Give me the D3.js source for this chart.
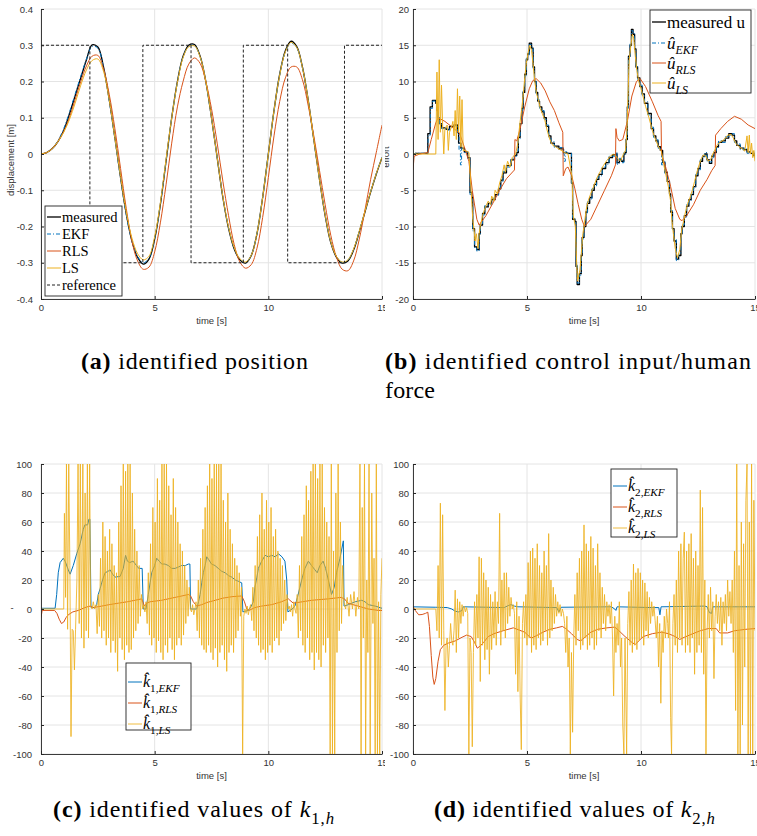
<!DOCTYPE html>
<html>
<head>
<meta charset="utf-8">
<script src="https://cdn.jsdelivr.net/npm/d3@7"></script>
<style>
  body { margin: 0; background: #fff; }
  svg { display: block; }
  .tick text { font-family: "Liberation Sans", Arial, sans-serif; font-size: 9.5px; fill: #333; }
  .lab { font-family: "Liberation Sans", Arial, sans-serif; font-size: 9.5px; fill: #333; }
  .leg { font-family: "Liberation Serif", "DejaVu Serif", serif; fill: #000; }
  .cap { font-family: "Liberation Serif", "DejaVu Serif", serif; fill: #000; }
</style>
</head>
<body>
<svg id="fig" width="757" height="836"></svg>
<script>

// ---- (a) position, sampled every 0.25 s
const posStep = 0.25;
const posMeasured = [0,0.004,0.015,0.035,0.065,0.11,0.16,0.21,0.26,0.301,0.295,0.24,0.15,0.045,-0.065,-0.165,-0.24,-0.285,-0.304,-0.29,-0.235,-0.14,-0.02,0.1,0.2,0.27,0.3,0.302,0.27,0.2,0.1,-0.01,-0.12,-0.205,-0.262,-0.292,-0.301,-0.28,-0.22,-0.12,0.0,0.12,0.22,0.285,0.311,0.296,0.24,0.15,0.04,-0.07,-0.17,-0.245,-0.285,-0.301,-0.295,-0.265,-0.215,-0.16,-0.105,-0.055,-0.01];
const posEKF = [0,0.004,0.015,0.037,0.07,0.115,0.165,0.215,0.262,0.297,0.292,0.238,0.148,0.043,-0.067,-0.167,-0.24,-0.283,-0.3,-0.287,-0.232,-0.138,-0.02,0.1,0.198,0.268,0.297,0.299,0.268,0.198,0.099,-0.01,-0.118,-0.203,-0.26,-0.29,-0.299,-0.279,-0.219,-0.12,0.0,0.118,0.218,0.282,0.307,0.293,0.238,0.149,0.04,-0.069,-0.168,-0.243,-0.283,-0.299,-0.293,-0.263,-0.213,-0.158,-0.104,-0.054,-0.009];
const posRLS = [0,0.004,0.015,0.035,0.062,0.1,0.15,0.2,0.243,0.27,0.272,0.235,0.165,0.07,-0.04,-0.15,-0.24,-0.295,-0.318,-0.312,-0.27,-0.19,-0.085,0.03,0.13,0.2,0.248,0.265,0.25,0.2,0.125,0.03,-0.075,-0.17,-0.25,-0.298,-0.315,-0.305,-0.26,-0.175,-0.065,0.05,0.145,0.21,0.24,0.24,0.205,0.135,0.05,-0.045,-0.14,-0.225,-0.285,-0.318,-0.322,-0.295,-0.235,-0.155,-0.07,0.005,0.08];
const posLS = [0,0.004,0.015,0.035,0.06,0.095,0.14,0.19,0.232,0.258,0.262,0.228,0.15,0.045,-0.062,-0.16,-0.232,-0.275,-0.292,-0.282,-0.228,-0.135,-0.015,0.1,0.197,0.266,0.296,0.298,0.268,0.2,0.1,-0.01,-0.118,-0.202,-0.258,-0.289,-0.298,-0.279,-0.219,-0.12,0.0,0.12,0.218,0.282,0.308,0.294,0.239,0.15,0.04,-0.07,-0.168,-0.243,-0.283,-0.298,-0.292,-0.262,-0.213,-0.158,-0.104,-0.054,-0.01];
const refTimes = [0, 2.15, 4.48, 6.6, 8.9, 10.85, 13.35, 15];
const refValues = [0.3, -0.3, 0.3, -0.3, 0.3, -0.3, 0.3, 0.3];

// ---- (b) effort, [time, value]
const uMeasured = [[0,0],[0.1,0.1],[0.6,0.1],[0.65,2.8],[0.75,6.5],[0.85,7.4],[1.0,7.0],[1.05,6.0],[1.1,5.0],[1.15,4.2],[1.25,3.6],[1.45,3.4],[1.6,3.8],[1.8,4.0],[1.95,3.0],[2.0,1.5],[2.1,0.8],[2.25,0.3],[2.4,-0.5],[2.5,-5.3],[2.58,-6],[2.62,-10.3],[2.7,-12.8],[2.8,-13.2],[2.9,-11],[2.95,-9.8],[3.05,-8.2],[3.15,-7.3],[3.3,-6.8],[3.45,-6.3],[3.6,-5.6],[3.75,-4.8],[3.85,-3.6],[3.95,-2.6],[4.1,-1.6],[4.3,-0.8],[4.45,-0.2],[4.55,0.2],[4.62,2.3],[4.7,4.2],[4.78,6.3],[4.83,8.5],[4.9,11],[4.97,13],[5.03,13.8],[5.1,15.3],[5.2,14.6],[5.27,12],[5.33,10],[5.4,8.5],[5.47,7.3],[5.55,6.5],[5.65,5.8],[5.75,5.0],[5.85,3.8],[5.95,2.5],[6.05,1.5],[6.2,1.1],[6.4,0.7],[6.6,0.2],[6.75,0.1],[6.95,-4],[7.0,-9],[7.1,-9.3],[7.15,-15.5],[7.2,-18],[7.3,-16.5],[7.38,-14],[7.42,-11.5],[7.5,-10],[7.58,-8],[7.65,-6.8],[7.75,-6],[7.85,-5],[7.95,-4.2],[8.05,-3.5],[8.15,-2.8],[8.3,-2],[8.45,-1.2],[8.6,-0.5],[8.75,-0.1],[8.9,0],[8.95,-1.2],[9.05,-0.8],[9.15,-1],[9.25,0],[9.3,0.2],[9.35,2],[9.4,6.5],[9.45,13.5],[9.52,15],[9.58,17.2],[9.65,16.5],[9.72,14.5],[9.78,12],[9.85,10.5],[9.95,9.3],[10.05,8.3],[10.15,7],[10.3,5.6],[10.45,3.5],[10.55,2.5],[10.65,1.8],[10.75,1],[10.85,0.5],[10.95,-1.2],[11.05,-2.5],[11.15,-3.8],[11.25,-5.5],[11.3,-8],[11.38,-10.3],[11.45,-12],[11.55,-14.5],[11.65,-14],[11.75,-11],[11.8,-10],[11.9,-8.5],[12.0,-7.2],[12.1,-6.3],[12.2,-5.6],[12.3,-4.5],[12.4,-3],[12.5,-2],[12.6,-1],[12.7,-0.3],[12.8,0],[12.9,-0.8],[13.0,-1.3],[13.1,-0.3],[13.2,0.2],[13.3,1.0],[13.4,1.6],[13.55,1.8],[13.7,2.2],[13.85,2.8],[14.0,2.6],[14.1,1.8],[14.2,1.2],[14.35,0.8],[14.5,0.6],[14.65,0.3],[14.8,0.1],[14.95,-0.2],[15,-0.3]];
const uEKF = [[0,0],[0.1,0.1],[0.6,0.05],[0.66,2.6],[0.76,6.3],[0.86,7.3],[1.0,7.1],[1.05,6.1],[1.1,5.1],[1.16,4.1],[1.26,3.5],[1.46,3.3],[1.61,3.7],[1.81,3.9],[1.95,2.7],[2.02,0.5],[2.08,-1.5],[2.13,0.8],[2.25,0.2],[2.4,-0.6],[2.5,-5.6],[2.58,-6.2],[2.62,-10.6],[2.7,-13],[2.8,-13.4],[2.9,-11.2],[2.95,-9.6],[3.05,-8.4],[3.15,-7.1],[3.3,-7],[3.45,-6.1],[3.6,-5.8],[3.75,-4.6],[3.85,-3.8],[3.95,-2.4],[4.1,-1.8],[4.3,-0.6],[4.45,-0.3],[4.55,0.4],[4.62,2.1],[4.7,4.4],[4.78,6.1],[4.83,8.7],[4.9,10.8],[4.97,13.2],[5.03,13.6],[5.1,15.1],[5.2,14.8],[5.27,11.8],[5.33,10.2],[5.4,8.3],[5.47,7.5],[5.55,6.3],[5.65,6.0],[5.75,4.8],[5.85,4.0],[5.95,2.3],[6.05,1.7],[6.2,0.9],[6.4,0.9],[6.6,0.0],[6.63,-1.0],[6.68,0.3],[6.75,0.1],[6.95,-4.2],[7.0,-8.8],[7.1,-9.5],[7.15,-15.3],[7.2,-17.8],[7.3,-16.7],[7.38,-13.8],[7.42,-11.7],[7.5,-9.8],[7.58,-8.2],[7.65,-6.6],[7.75,-6.2],[7.85,-4.8],[7.95,-4.4],[8.05,-3.3],[8.15,-3.0],[8.3,-1.8],[8.45,-1.4],[8.6,-0.3],[8.75,-0.3],[8.9,0.2],[8.95,-1.4],[9.05,-0.6],[9.15,-1.2],[9.25,0.2],[9.3,0.0],[9.35,2.2],[9.4,6.3],[9.45,13.3],[9.52,15.2],[9.58,17.0],[9.65,16.7],[9.72,14.3],[9.78,12.2],[9.85,10.3],[9.95,9.5],[10.05,8.1],[10.15,7.2],[10.3,5.4],[10.45,3.7],[10.55,2.3],[10.65,2.0],[10.75,0.8],[10.85,0.7],[10.9,-1.5],[10.95,-1.0],[11.05,-2.7],[11.15,-3.6],[11.25,-5.7],[11.3,-7.8],[11.38,-10.5],[11.45,-11.8],[11.55,-14.7],[11.65,-13.8],[11.75,-11.2],[11.8,-9.8],[11.9,-8.7],[12.0,-7.0],[12.1,-6.5],[12.2,-5.4],[12.3,-4.7],[12.4,-2.8],[12.5,-2.2],[12.6,-0.8],[12.7,-0.5],[12.8,0.2],[12.9,-1.0],[13.0,-1.1],[13.1,-0.5],[13.2,0.4],[13.3,0.8],[13.4,1.8],[13.55,1.6],[13.7,2.4],[13.85,2.6],[14.0,2.8],[14.1,1.6],[14.2,1.4],[14.35,0.6],[14.5,0.8],[14.65,0.1],[14.8,0.3],[14.95,-0.4],[15,-0.2]];
const uRLS = [[0,-2.2],[0.05,-0.3],[0.3,0],[0.65,0.2],[0.8,2],[1.0,4.3],[1.1,5.0],[1.4,4.5],[1.8,3.5],[2.05,2.8],[2.3,0.5],[2.45,-1],[2.6,-5],[2.8,-9],[2.9,-9.8],[3.2,-8.5],[3.5,-6.8],[3.8,-5],[4.1,-3.4],[4.45,-2.2],[4.47,2.0],[4.55,1.8],[4.7,3.5],[4.9,6.5],[5.1,9],[5.25,10.1],[5.4,10.4],[5.6,9.8],[5.8,8.7],[6.0,7.2],[6.2,6],[6.4,4.3],[6.57,3],[6.59,-3],[6.7,-2],[6.8,-1.8],[6.96,-3],[7.1,-4.8],[7.25,-7],[7.4,-9],[7.52,-10],[7.8,-9],[8.1,-7],[8.4,-5],[8.7,-3],[8.88,-1.5],[8.9,3.5],[8.95,2.3],[9.05,1.8],[9.2,2],[9.4,4.5],[9.6,8],[9.8,10],[9.96,10.4],[10.2,9.3],[10.5,7.2],[10.75,5.3],[10.88,4.5],[10.9,0],[11.1,-2],[11.3,-4.5],[11.5,-7.5],[11.7,-9],[11.8,-9.2],[12.0,-8.5],[12.3,-7],[12.6,-5],[12.9,-3.5],[13.1,-2.3],[13.25,-1.6],[13.27,2.6],[13.5,3.5],[13.8,4.5],[14.1,5.2],[14.4,4.8],[14.7,4.0],[15,3.5]];
const uLS = [[0,0],[1.0,0],[1.05,11.3],[1.1,2],[1.15,13],[1.2,3],[1.25,9.5],[1.3,4],[1.35,0],[1.4,3.5],[1.5,4],[1.55,0.5],[1.6,3],[1.7,3.8],[1.75,4.5],[1.8,2.5],[1.85,6],[1.9,2],[1.95,9],[2.0,3],[2.05,8],[2.1,1],[2.15,7.5],[2.2,0.5],[2.3,0.5],[2.45,0.2],[2.55,-5],[2.62,-9],[2.68,-10.5],[2.72,-12],[2.78,-11],[2.85,-13],[2.9,-11],[2.95,-10],[3.05,-8.5],[3.15,-7.5],[3.3,-6.5],[3.4,-7],[3.45,-5.8],[3.55,-6.5],[3.6,-5],[3.7,-5.5],[3.8,-4],[3.9,-3],[4.0,-1.5],[4.05,-2.5],[4.15,-1],[4.25,-1.8],[4.35,-0.5],[4.5,0],[4.6,1.5],[4.68,4],[4.76,6],[4.83,8],[4.9,10.5],[4.97,12.5],[5.05,14],[5.12,15],[5.2,14.3],[5.27,12.3],[5.35,9.8],[5.42,8.3],[5.5,7.5],[5.58,6.3],[5.68,5.5],[5.78,4.7],[5.88,3.3],[5.98,2.2],[6.1,1.3],[6.25,1],[6.45,0.6],[6.65,0.2],[6.8,0],[6.97,-3],[7.03,-8.5],[7.12,-10],[7.17,-14.5],[7.22,-17.5],[7.32,-16],[7.4,-13],[7.45,-11],[7.52,-9.5],[7.6,-7.6],[7.68,-6.5],[7.78,-5.6],[7.88,-4.8],[7.98,-4],[8.08,-3.2],[8.2,-2.5],[8.35,-1.6],[8.5,-0.9],[8.65,-0.3],[8.8,0],[8.95,-0.5],[9.1,-1],[9.2,-0.2],[9.32,0.5],[9.38,3],[9.43,8],[9.48,13],[9.55,14.8],[9.62,16.5],[9.68,16],[9.75,13.5],[9.82,11.5],[9.9,10],[10.0,9],[10.1,7.8],[10.2,6.6],[10.35,5],[10.5,3.2],[10.6,2.3],[10.7,1.5],[10.8,0.8],[10.9,0.3],[11.0,-1.5],[11.1,-3],[11.2,-4.5],[11.3,-6.5],[11.35,-9],[11.42,-11],[11.5,-13],[11.6,-14.3],[11.7,-13.2],[11.78,-10.5],[11.85,-9.5],[11.95,-8],[12.05,-6.8],[12.15,-6],[12.25,-5],[12.35,-3.8],[12.45,-2.5],[12.55,-1.5],[12.65,-0.6],[12.75,-0.1],[12.85,-0.3],[12.95,-1],[13.05,-0.8],[13.15,0],[13.25,0.6],[13.35,1.3],[13.5,1.7],[13.65,2],[13.8,2.6],[13.95,2.7],[14.05,2.2],[14.15,1.5],[14.3,1],[14.45,0.7],[14.55,0.4],[14.65,2.5],[14.7,0.2],[14.75,2.6],[14.8,0],[14.85,1.5],[14.9,-0.5],[14.95,0.5],[15,-1]];

// ---- (c) k1 estimates, [time, value]
const k1EKF = [[0,0.5],[0.62,0.5],[0.69,10],[0.76,25],[0.84,32],[0.98,35],[1.06,33],[1.2,27],[1.28,24],[1.42,30],[1.57,38],[1.72,45],[1.86,55],[1.93,58],[2.05,58],[2.11,62],[2.15,62],[2.2,1],[2.37,1],[2.45,3],[2.52,10],[2.6,14],[2.67,18],[2.75,22],[2.82,25],[2.95,26],[3.04,27],[3.15,24],[3.26,22],[3.48,22.5],[3.62,28],[3.72,37],[3.8,33],[3.9,32],[4.05,33],[4.2,30],[4.3,28],[4.45,28],[4.5,0],[4.62,0],[4.72,10],[4.8,18],[4.87,25],[5.0,30],[5.09,35],[5.2,33],[5.31,31],[5.45,31],[5.6,30],[5.75,28],[5.9,28],[6.05,29],[6.19,30],[6.35,30],[6.48,31],[6.55,31],[6.58,0],[6.85,0],[6.93,5],[7.0,10],[7.07,18],[7.14,25],[7.22,30],[7.29,36],[7.38,34],[7.5,31],[7.65,30],[7.8,28],[7.95,26],[8.1,25],[8.25,23],[8.39,22],[8.55,20],[8.7,19],[8.83,18],[8.88,-2],[9.12,-1],[9.25,2],[9.34,5],[9.41,15],[9.5,22],[9.56,28],[9.71,33],[9.86,37],[10.0,36],[10.15,37],[10.3,36],[10.45,38],[10.6,36],[10.73,33],[10.81,20],[10.86,-2],[11.05,0],[11.17,2],[11.28,8],[11.39,15],[11.5,22],[11.61,28],[11.76,33],[11.9,30],[12.05,27],[12.15,25],[12.27,30],[12.41,33],[12.52,28],[12.64,20],[12.78,10],[12.9,15],[13.0,25],[13.15,35],[13.3,47],[13.33,2],[13.52,3],[13.82,5],[14.11,6],[14.25,5],[14.4,3],[14.7,2],[15,0.5]];
const k1RLS = [[0,-6],[0.05,-1],[0.6,-1],[0.7,-3],[0.8,-7],[0.9,-10],[1.0,-9],[1.1,-6],[1.2,-4],[1.4,-2],[1.64,-1],[1.93,1],[2.16,2],[2.3,1],[2.67,2],[3.0,3],[3.4,4],[3.8,5],[4.13,6],[4.43,7],[4.5,4],[4.55,2],[4.65,4],[4.8,5],[5.3,6],[5.9,8],[6.2,9],[6.48,10],[6.58,9],[6.7,5],[6.85,2],[7.07,3],[7.3,4.5],[7.66,6],[8.0,7.5],[8.4,8.5],[8.83,9],[8.95,5],[9.05,0],[9.15,-1],[9.41,1],[9.7,2],[10.15,3],[10.58,5],[10.88,7],[10.95,6],[11.1,4],[11.5,5],[11.9,6],[12.64,7],[13.2,8],[13.35,7],[13.5,4],[13.95,2],[14.4,0],[14.85,-1],[15,-1]];
const k1LS = [[0,0],[1.0,0],[1.03,66],[1.08,8],[1.12,100],[1.17,-14],[1.22,100],[1.27,30],[1.32,-88],[1.37,-14],[1.42,-15],[1.47,-42],[1.52,-14],[1.58,20],[1.63,100],[1.68,-10],[1.73,100],[1.78,-20],[1.84,100],[1.89,-27],[1.94,80],[1.99,-15],[2.04,100],[2.09,-20],[2.14,100],[2.18,2],[2.25,0],[2.3,5],[2.36,0],[2.42,3],
  [2.47,-17],[2.52,10],[2.57,-12],[2.62,35],[2.67,-20],[2.72,60],[2.77,-15],[2.82,50],[2.87,-25],[2.92,40],[2.97,-20],[3.02,55],[3.07,-30],[3.12,45],[3.17,-22],[3.22,30],[3.27,-30],[3.32,25],[3.37,-43],[3.42,60],[3.47,-20],[3.52,85],[3.57,-28],[3.62,100],[3.67,-35],[3.72,95],[3.77,-25],[3.82,100],[3.87,-30],[3.92,100],[3.97,-28],[4.02,80],[4.07,-20],[4.12,55],[4.17,-15],[4.22,40],[4.27,-10],[4.32,30],[4.37,-5],[4.42,10],
  [4.47,0],[4.52,3],[4.57,-2],[4.62,5],
  [4.67,-10],[4.72,25],[4.77,-18],[4.82,45],[4.87,-25],[4.92,70],[4.97,-20],[5.02,60],[5.07,-30],[5.12,90],[5.17,-22],[5.22,75],[5.27,-30],[5.32,100],[5.37,-35],[5.42,100],[5.47,-25],[5.52,100],[5.57,-30],[5.62,85],[5.67,-20],[5.72,65],[5.77,-28],[5.82,90],[5.87,-35],[5.92,70],[5.97,-25],[6.02,60],[6.07,-20],[6.12,45],[6.17,-25],[6.22,40],[6.27,-18],[6.32,30],[6.37,-10],[6.42,20],[6.47,-5],[6.52,15],
  [6.57,0],[6.62,-2],[6.67,3],[6.72,-4],[6.77,0],[6.82,5],
  [6.87,-15],[6.92,20],[6.97,-20],[7.02,35],[7.07,-25],[7.12,55],[7.17,-28],[7.22,70],[7.27,-30],[7.32,85],[7.37,-25],[7.42,100],[7.47,-30],[7.52,90],[7.57,-35],[7.62,100],[7.67,-27],[7.72,100],[7.77,-40],[7.82,100],[7.87,-30],[7.92,100],[7.97,-25],[8.02,75],[8.07,-35],[8.12,60],[8.17,-43],[8.22,80],[8.27,-30],[8.32,55],[8.37,-25],[8.42,45],[8.47,-30],[8.52,35],[8.57,-20],[8.62,30],[8.67,-15],[8.72,25],[8.77,-5],[8.82,15],[8.87,-100],[8.92,-5],
  [8.97,0],[9.02,-3],[9.07,2],[9.12,-4],[9.17,0],[9.22,3],
  [9.27,-8],[9.32,15],[9.37,-15],[9.42,30],[9.47,-20],[9.52,50],[9.57,-25],[9.62,65],[9.67,-30],[9.72,80],[9.77,-28],[9.82,55],[9.87,-35],[9.92,75],[9.97,-30],[10.02,60],[10.07,-25],[10.12,70],[10.17,-30],[10.22,50],[10.27,-22],[10.32,55],[10.37,-20],[10.42,40],[10.47,-25],[10.52,35],[10.57,-15],[10.62,30],[10.67,-10],[10.72,20],[10.77,-8],[10.82,10],
  [10.87,0],[10.92,2],[10.97,-2],[11.02,3],[11.07,-5],[11.12,5],[11.17,0],[11.22,-3],
  [11.27,10],[11.32,-20],[11.37,30],[11.42,-15],[11.47,50],[11.52,-25],[11.57,65],[11.62,-30],[11.67,85],[11.72,-20],[11.77,75],[11.82,-35],[11.87,95],[11.92,-30],[11.97,100],[12.02,-42],[12.07,100],[12.12,-30],[12.17,90],[12.22,-35],[12.27,100],[12.32,-40],[12.37,100],[12.42,-25],[12.47,70],[12.52,-30],[12.57,60],[12.62,-20],[12.67,50],[12.72,-100],[12.77,100],[12.82,-100],[12.87,40],[12.92,-100],[12.97,80],[13.02,-30],[13.07,100],[13.12,-15],[13.17,60],[13.22,-10],[13.27,30],
  [13.32,5],[13.4,0],[13.47,8],[13.55,-5],[13.62,10],[13.7,0],[13.77,12],[13.85,-5],[13.92,8],[13.98,0],
  [14.03,100],[14.08,-100],[14.13,70],[14.18,-20],[14.23,100],[14.28,-100],[14.33,20],[14.38,-30],[14.43,100],[14.48,-100],[14.55,80],[14.6,-10],[14.65,35],[14.7,-100],[14.75,100],[14.8,-100],[14.85,5],[14.9,-100],[14.95,10],[15,35]];

// ---- (d) k2 estimates, [time, value]
const k2EKF = [[0,1.5],[1.0,1.2],[1.5,1],[1.7,0],[1.85,-1.5],[2.0,-2],[2.15,-1],[2.2,1.5],[4.0,1],[4.2,2.5],[4.3,3],[4.45,2],[4.6,1.5],[6.3,1],[6.4,-2],[6.5,1.2],[8.7,1.5],[8.85,0],[8.9,-1],[8.95,1.5],[10.5,1],[10.78,1],[10.83,-4],[10.88,1.5],[12.8,2],[12.9,1.5],[13.0,-2.5],[13.1,-3],[13.15,1.5],[15,1.5]];
const k2RLS = [[0,2],[0.1,-1],[0.25,-4],[0.4,-3.8],[0.55,-3],[0.65,-2.2],[0.72,-12],[0.8,-32],[0.87,-47],[0.93,-52],[1.0,-48],[1.1,-36],[1.2,-28],[1.35,-25],[1.55,-23.5],[1.85,-22],[2.15,-19.5],[2.35,-18],[2.55,-19],[2.7,-23],[2.82,-27],[2.95,-25.5],[3.1,-23],[3.3,-19],[3.55,-17],[3.95,-15],[4.4,-13],[4.65,-14.5],[4.9,-16],[5.1,-19],[5.2,-20],[5.4,-18.5],[5.7,-16],[6.0,-14],[6.3,-13],[6.55,-12],[6.7,-13.5],[6.95,-17],[7.2,-21],[7.35,-22],[7.5,-20],[7.8,-16],[8.1,-14],[8.5,-13],[8.85,-12.5],[9.0,-14.5],[9.3,-19],[9.6,-23],[9.75,-24.5],[9.9,-22],[10.1,-19],[10.5,-17],[10.9,-16],[11.2,-17],[11.5,-19],[11.7,-21],[11.9,-19.5],[12.2,-17.5],[12.6,-15],[12.95,-13.5],[13.3,-13.5],[13.45,-16.5],[13.8,-16.5],[14.1,-15],[14.6,-14],[15,-13.5]];
const k2LS = [[0,0],[1.0,0],[1.05,-15],[1.1,30],[1.15,-20],[1.2,73],[1.25,-25],[1.3,65],[1.35,-15],[1.4,-70],[1.45,-25],[1.5,-20],[1.55,-40],[1.6,-25],[1.65,-10],[1.7,-22],[1.75,-25],[1.8,-15],[1.85,13],[1.9,-30],[1.95,7],[2.0,-20],[2.05,5],[2.1,-10],[2.15,3],[2.2,-5],[2.25,2],[2.3,-2],[2.35,1],[2.4,-3],
  [2.45,-100],[2.5,-20],[2.55,-30],[2.6,-95],[2.65,-30],[2.7,5],[2.75,-25],[2.8,10],[2.85,-20],[2.9,36],[2.95,-50],[3.0,35],[3.05,-25],[3.1,25],[3.15,-35],[3.2,20],[3.25,-28],[3.3,15],[3.35,-45],[3.4,10],[3.45,-28],[3.5,5],[3.55,-20],[3.6,12],[3.65,-25],[3.7,5],[3.75,-10],[3.8,66],[3.85,-25],[3.9,20],[3.95,-15],[4.0,25],[4.05,-20],[4.1,25],[4.15,-10],[4.2,15],[4.25,-5],[4.3,8],[4.35,0],[4.4,3],[4.45,-3],
  [4.5,-45],[4.55,5],[4.6,-57],[4.65,-5],[4.7,-60],[4.75,-97],[4.8,-10],[4.85,5],[4.9,-20],[4.95,10],[5.0,-25],[5.05,32],[5.1,-20],[5.15,40],[5.2,-30],[5.25,42],[5.3,-25],[5.35,35],[5.4,-28],[5.45,45],[5.5,-20],[5.55,30],[5.6,-25],[5.65,25],[5.7,-22],[5.75,40],[5.8,-15],[5.85,30],[5.9,-25],[5.95,52],[6.0,-20],[6.05,20],[6.1,-15],[6.15,15],[6.2,-10],[6.25,10],[6.3,-5],[6.35,5],[6.4,-3],[6.45,3],[6.5,-5],[6.55,0],[6.6,-3],
  [6.65,-10],[6.7,-30],[6.75,-5],[6.8,-40],[6.85,-20],[6.9,-100],[6.95,-30],[7.0,-85],[7.05,-20],[7.1,10],[7.15,-25],[7.2,25],[7.25,-15],[7.3,35],[7.35,-28],[7.4,40],[7.45,-25],[7.5,58],[7.55,-20],[7.6,45],[7.65,-28],[7.7,40],[7.75,-25],[7.8,50],[7.85,-20],[7.9,42],[7.95,-28],[8.0,30],[8.05,-25],[8.1,45],[8.15,-15],[8.2,25],[8.25,-20],[8.3,15],[8.35,-10],[8.4,10],[8.45,-15],[8.5,5],[8.55,-5],[8.6,3],[8.65,-10],[8.7,5],
  [8.75,-20],[8.8,-60],[8.85,-5],[8.9,-30],[8.95,-10],[9.0,-25],[9.05,5],[9.1,-40],[9.15,-20],[9.2,-80],[9.25,-100],[9.3,-20],[9.37,-100],[9.42,-10],[9.47,12],[9.52,-25],[9.57,20],[9.62,-30],[9.67,31],[9.72,-25],[9.77,25],[9.82,-28],[9.87,28],[9.92,-22],[9.97,25],[10.02,-20],[10.07,20],[10.12,-25],[10.17,18],[10.22,-15],[10.27,12],[10.32,-20],[10.37,8],[10.42,-10],[10.47,5],[10.52,-5],[10.57,2],[10.62,-8],
  [10.67,-20],[10.72,-5],[10.77,-40],[10.82,-10],[10.87,-65],[10.92,-15],[10.97,-30],[11.02,-5],[11.07,-20],[11.12,0],[11.17,-10],[11.2,-20],[11.25,5],[11.3,-75],[11.34,-100],[11.4,-10],[11.45,10],[11.5,-25],[11.55,20],[11.6,-30],[11.65,40],[11.7,-20],[11.75,45],[11.8,-25],[11.85,35],[11.9,53],[11.95,-30],[12.0,40],[12.05,-25],[12.1,45],[12.15,-30],[12.2,52],[12.25,-20],[12.3,35],[12.35,-45],[12.4,40],[12.45,-30],[12.5,30],[12.55,-25],[12.6,82],[12.65,-30],[12.7,70],[12.75,-45],[12.8,20],[12.85,-100],[12.9,-15],[12.95,10],
  [13.0,-20],[13.05,15],[13.1,-15],[13.15,5],[13.2,-48],[13.25,-5],[13.3,10],[13.35,-10],[13.4,5],[13.45,-15],[13.5,8],[13.55,-25],[13.6,5],[13.65,-10],[13.7,10],[13.75,-15],[13.8,20],[13.85,-5],[13.9,12],[13.95,-10],[14.0,20],[14.05,-30],[14.1,40],[14.15,-70],[14.2,100],[14.25,-100],[14.3,30],[14.35,-100],[14.4,60],[14.45,-80],[14.5,45],[14.55,-40],[14.6,75],[14.65,100],[14.7,-100],[14.75,60],[14.8,-100],[14.85,100],[14.9,-100],[14.95,75],[15,-15]];

const timeTicks = [0, 5, 10, 15];
const posTicks = [-0.4,-0.3,-0.2,-0.1,0,0.1,0.2,0.3,0.4];
const effortTicks = [-20,-15,-10,-5,0,5,10,15,20];
const gainTicks = [-100,-80,-60,-40,-20,0,20,40,60,80,100];

const col = { blue: '#0072BD', red: '#D95319', yellow: '#EDB120', black: '#000' };

const svg = d3.select('#fig');
const defs = svg.append('defs');
function addClip(id, x, y, w, h) {
  defs.append('clipPath').attr('id', id)
    .append('rect').attr('x', x).attr('y', y).attr('width', w).attr('height', h);
}
addClip('half-l', 0, 0, 385, 836);
addClip('half-r', 385, 0, 372, 836);

const fmtPos = d => d === 0 ? '0' : d.toFixed(1);
const fmtInt = d => String(d);

function panel(o) {
  const root = svg.append('g').attr('clip-path', `url(#${o.half})`);
  const x = d3.scaleLinear().domain([0, 15]).range([o.left, o.right]);
  const y = d3.scaleLinear().domain(o.yDomain).range([o.bottom, o.top]);

  const grid = root.append('g').attr('stroke', '#e4e4e4').attr('stroke-width', 1);
  grid.selectAll('.gx').data(timeTicks).join('line')
    .attr('x1', d => x(d)).attr('x2', d => x(d))
    .attr('y1', o.top).attr('y2', o.bottom);
  grid.selectAll('.gy').data(o.yTicks).join('line')
    .attr('x1', o.left).attr('x2', o.right)
    .attr('y1', d => y(d)).attr('y2', d => y(d));

  addClip(o.id + '-plot', o.left, o.top, o.right - o.left, o.bottom - o.top);
  const plot = root.append('g').attr('clip-path', `url(#${o.id}-plot)`);

  const ax = root.append('g').attr('transform', `translate(${o.left},0)`)
    .call(d3.axisLeft(y).tickValues(o.yTicks).tickFormat(o.fmt)
      .tickSizeInner(-3).tickSizeOuter(0).tickPadding(o.pad));
  const bx = root.append('g').attr('transform', `translate(0,${o.bottom})`)
    .call(d3.axisBottom(x).tickValues(timeTicks).tickFormat(fmtInt)
      .tickSizeInner(-3).tickSizeOuter(0).tickPadding(5));
  [ax, bx].forEach(a => {
    a.select('.domain').attr('stroke', '#262626').attr('stroke-width', 0.9);
    a.selectAll('.tick line').attr('stroke', '#262626');
  });

  root.append('text').attr('class', 'lab')
    .attr('x', (o.left + o.right) / 2).attr('y', o.bottom + 25)
    .attr('text-anchor', 'middle').text('time [s]');
  if (o.ylabel) {
    root.append('text').attr('class', 'lab')
      .attr('transform', `translate(${o.ylabelX},${o.ylabelY}) rotate(-90)`)
      .attr('text-anchor', 'middle').text(o.ylabel);
  }
  return { root, plot, x, y };
}

function series(p, data, color, opt = {}) {
  const line = d3.line().x(d => p.x(d[0])).y(d => p.y(d[1]))
    .curve(opt.curve || d3.curveLinear);
  p.plot.append('path').datum(data)
    .attr('d', line)
    .attr('fill', 'none')
    .attr('stroke', color)
    .attr('stroke-width', opt.w || 1)
    .attr('stroke-dasharray', opt.dash || null)
    .attr('stroke-opacity', opt.op || 1)
    .attr('stroke-linejoin', 'round');
}

const stepped = (step, vals) => vals.map((v, i) => [i * step, v]);

// rich text: segments {t, it, sub, b}
function rich(sel, segs, size) {
  let shifted = false;
  segs.forEach(s => {
    const ts = sel.append('tspan').text(s.t);
    if (s.it) ts.attr('font-style', 'italic');
    if (s.b) ts.attr('font-weight', 'bold');
    if (s.sub) {
      ts.attr('font-size', size * 0.7);
      if (!shifted) { ts.attr('dy', size * 0.3); shifted = true; }
    } else {
      ts.attr('font-size', size);
      if (shifted) { ts.attr('dy', -size * 0.3); shifted = false; }
    }
  });
}

function legend(p, box, items, size) {
  const g = p.root.append('g');
  g.append('rect').attr('x', box.x).attr('y', box.y)
    .attr('width', box.w).attr('height', box.h)
    .attr('fill', '#fff').attr('stroke', '#222').attr('stroke-width', 0.9);
  items.forEach(it => {
    g.append('line')
      .attr('x1', box.x + 2).attr('x2', box.x + 16)
      .attr('y1', it.cy).attr('y2', it.cy)
      .attr('stroke', it.color).attr('stroke-width', it.w || 1)
      .attr('stroke-dasharray', it.dash || null)
      .attr('stroke-opacity', it.op || 1);
    const t = g.append('text').attr('class', 'leg')
      .attr('x', box.x + 17).attr('y', it.cy + size * 0.33);
    rich(t, it.label, size);
  });
}

// ---------- (a)
const pa = panel({ id: 'pa', half: 'half-l', left: 41, right: 382, top: 9, bottom: 299,
  yDomain: [-0.4, 0.4], yTicks: posTicks, fmt: fmtPos, pad: 8,
  ylabel: 'displacement [m]', ylabelX: 14, ylabelY: 160 });
series(pa, stepped(posStep, posMeasured), col.black, { w: 1.3, curve: d3.curveCatmullRom });
series(pa, stepped(posStep, posEKF), col.blue, { w: 1, dash: '4,2,1,2', curve: d3.curveCatmullRom });
series(pa, stepped(posStep, posRLS), col.red, { w: 1, curve: d3.curveCatmullRom });
series(pa, stepped(posStep, posLS), col.yellow, { w: 1, curve: d3.curveCatmullRom });
series(pa, refTimes.map((t, i) => [t, refValues[i]]), '#222', { w: 1, dash: '3,2', curve: d3.curveStepAfter });
legend(pa, { x: 45, y: 206, w: 77, h: 90 }, [
  { cy: 217, color: col.black, w: 1.3, label: [{ t: 'measured' }] },
  { cy: 234, color: col.blue, dash: '4,2,1,2', label: [{ t: 'EKF' }] },
  { cy: 251, color: col.red, label: [{ t: 'RLS' }] },
  { cy: 268, color: col.yellow, label: [{ t: 'LS' }] },
  { cy: 285, color: '#222', dash: '3,2', label: [{ t: 'reference' }] }
], 14.5);

// ---------- (b)
const pb = panel({ id: 'pb', half: 'half-r', left: 413, right: 755, top: 9, bottom: 299,
  yDomain: [-20, 20], yTicks: effortTicks, fmt: fmtInt, pad: 4,
  ylabel: 'effort', ylabelX: 389, ylabelY: 157 });
series(pb, uMeasured, col.black, { w: 1.3, curve: d3.curveStepAfter });
series(pb, uEKF, col.blue, { w: 1, dash: '4,2,1,2', curve: d3.curveStepAfter });
series(pb, uRLS, col.red, { w: 1 });
series(pb, uLS, col.yellow, { w: 1 });
legend(pb, { x: 650, y: 10, w: 101, h: 83 }, [
  { cy: 22, color: col.black, w: 1.3, label: [{ t: 'measured u' }] },
  { cy: 43, color: col.blue, dash: '4,2,1,2', label: [{ t: 'û', it: true }, { t: 'EKF', it: true, sub: true }] },
  { cy: 63, color: col.red, label: [{ t: 'û', it: true }, { t: 'RLS', it: true, sub: true }] },
  { cy: 83, color: col.yellow, label: [{ t: 'û', it: true }, { t: 'LS', it: true, sub: true }] }
], 17);

// ---------- (c)
const pc = panel({ id: 'pc', half: 'half-l', left: 41, right: 382, top: 464, bottom: 754,
  yDomain: [-100, 100], yTicks: gainTicks, fmt: fmtInt, pad: 9,
  ylabel: null });
svg.append('text').attr('class', 'lab').attr('x', 12).attr('y', 611).attr('text-anchor', 'middle').text('-');
series(pc, k1EKF, col.blue, { w: 1 });
series(pc, k1RLS, col.red, { w: 1 });
series(pc, k1LS, col.yellow, { w: 1, op: 0.85 });
legend(pc, { x: 126, y: 663, w: 65, h: 67 }, [
  { cy: 682, color: col.blue, label: [{ t: 'k\u0302', it: true }, { t: '1,', sub: true }, { t: 'EKF', it: true, sub: true }] },
  { cy: 703, color: col.red, label: [{ t: 'k\u0302', it: true }, { t: '1,', sub: true }, { t: 'RLS', it: true, sub: true }] },
  { cy: 724, color: col.yellow, op: 0.85, label: [{ t: 'k\u0302', it: true }, { t: '1,', sub: true }, { t: 'LS', it: true, sub: true }] }
], 16);

// ---------- (d)
const pd = panel({ id: 'pd', half: 'half-r', left: 413, right: 755, top: 464, bottom: 754,
  yDomain: [-100, 100], yTicks: gainTicks, fmt: fmtInt, pad: 4,
  ylabel: null });
series(pd, k2EKF, col.blue, { w: 1 });
series(pd, k2RLS, col.red, { w: 1 });
series(pd, k2LS, col.yellow, { w: 1, op: 0.85 });
legend(pd, { x: 611, y: 469, w: 66, h: 68 }, [
  { cy: 486, color: col.blue, label: [{ t: 'k\u0302', it: true }, { t: '2,', sub: true }, { t: 'EKF', it: true, sub: true }] },
  { cy: 507, color: col.red, label: [{ t: 'k\u0302', it: true }, { t: '2,', sub: true }, { t: 'RLS', it: true, sub: true }] },
  { cy: 528, color: col.yellow, op: 0.85, label: [{ t: 'k\u0302', it: true }, { t: '2,', sub: true }, { t: 'LS', it: true, sub: true }] }
], 16);

// ---------- captions: natural glyph shapes, spacing nudged to reach the printed width
const capSize = 24;
function caption(x, y, segs, width) {
  const t = svg.append('text').attr('class', 'cap').attr('x', x).attr('y', y);
  rich(t, segs, capSize);
  if (width) {
    const natural = t.node().getComputedTextLength();
    const n = segs.reduce((s, g) => s + g.t.length, 0);
    t.attr('letter-spacing', ((width - natural) / (n - 1)).toFixed(2));
  }
}
caption(81, 369, [{ t: '(a)', b: true }, { t: ' identified position' }], 227);
caption(385, 369, [{ t: '(b)', b: true }, { t: ' identified control input/human' }], 366);
caption(385, 398, [{ t: 'force' }], 50);
caption(53, 817, [{ t: '(c)', b: true }, { t: ' identified values of ' }, { t: 'k', it: true }, { t: '1,', sub: true }, { t: 'h', it: true, sub: true }], 281);
caption(434, 817, [{ t: '(d)', b: true }, { t: ' identified values of ' }, { t: 'k', it: true }, { t: '2,', sub: true }, { t: 'h', it: true, sub: true }], 281);

</script>
</body>
</html>
